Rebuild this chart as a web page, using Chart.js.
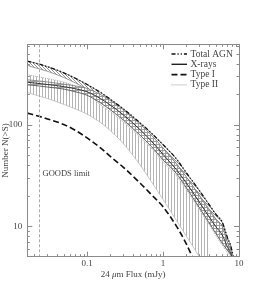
<!DOCTYPE html>
<html>
<head>
<meta charset="utf-8">
<script src="https://cdn.jsdelivr.net/npm/chart.js@4.4.1/dist/chart.umd.min.js"></script>
<style>
html, body { margin: 0; padding: 0; background: #fff; }
#wrap { width: 253px; height: 297px; }
</style>
</head>
<body>
<div id="wrap"><canvas id="agnChart" width="253" height="297"></canvas></div>
<script>
// 24um flux grid (mJy)
const flux = [0.0163, 0.02, 0.03, 0.05, 0.07, 0.1, 0.15, 0.2, 0.3, 0.5, 0.7, 1, 1.5, 2, 3, 4, 5, 6, 7, 8, 10];

const totalAGN = [422, 408, 373, 323, 287, 249, 208, 179, 143, 104, 82.7, 63.6, 46, 34, 22.5, 16.5, 13, 11, 7.8, 5.9, 2];
const totalAGNLow = [384, 367, 336, 291, 258, 224, 187, 161, 129, 94, 74.5, 57, 41.5, 30.6, 20.3, 14.9, 11.7, 9.9, 7, 5.3, 1.8];

const xrays = [262, 258, 249, 237, 226, 211, 181, 157, 125, 89, 69, 51, 36, 27, 17.3, 12.5, 9.8, 8.2, 6.3, 5.1, 2.5];
const xraysHigh = [277, 273, 264, 251, 241, 228, 198, 174, 140, 101, 79, 59, 41, 31, 20, 14.5, 11.5, 10, 7, 5.3, 2];
const xraysLow = [247, 244, 235, 224, 211, 195, 164, 141, 111, 78.5, 61, 45, 33, 24.2, 15.2, 10.9, 8.4, 6.8, 5.8, 5, 3];

const typeI = [130, 125, 114, 100, 88, 74, 59, 49, 38, 26.5, 20.5, 15.5, 10, 6.8, 3.5, null, null, null, null, null, null];

const typeII = [310, 302, 285, 262, 240, 205, 157, 135, 106.5, 75.4, 58.5, 43.2, 31.5, 23.2, 14.6, 10.5, 8, 6.5, 5.5, 4.8, 2.8];
const typeIIHigh = typeII;
const typeIILow = [208, 198, 181, 158, 143, 127, 105, 88, 65, 40, 27.5, 18.3, 11.4, 8.1, 5, 3.5, null, null, null, null, null];

const goodsLimit = 0.023;

const xMajorTicks = [0.1, 1, 10];
const xMinorTicks = [0.02, 0.03, 0.04, 0.05, 0.06, 0.07, 0.08, 0.09, 0.2, 0.3, 0.4, 0.5, 0.6, 0.7, 0.8, 0.9, 2, 3, 4, 5, 6, 7, 8, 9];
const yMajorTicks = [10, 100];
const yMinorTicks = [6, 7, 8, 9, 20, 30, 40, 50, 60, 70, 80, 90, 200, 300, 400, 500, 600];

const legendItems = [
    { label: "Total AGN", dash: [4, 2, 1.2, 2, 1.2, 2], color: "#111", width: 1.3 },
    { label: "X-rays", dash: [], color: "#222", width: 1.4 },
    { label: "Type I", dash: [6, 3], color: "#111", width: 1.6 },
    { label: "Type II", dash: [1, 1], color: "#999", width: 1 }
];

const FONT = "Liberation Serif, DejaVu Serif, serif";

function makePattern(size, bg, fg, cells) {
    const c = document.createElement("canvas");
    c.width = size;
    c.height = size;
    const g = c.getContext("2d");
    if (bg) {
        g.fillStyle = bg;
        g.fillRect(0, 0, size, size);
    }
    g.fillStyle = fg;
    cells.forEach(([cx, cy]) => g.fillRect(cx, cy, 1, 1));
    return g.createPattern(c, "repeat");
}

const vertPattern = makePattern(3, null, "#b4b4b4", [[0, 0], [0, 1], [0, 2]]);
const diagPattern = makePattern(3, "#fff", "#959595", [[0, 0], [1, 1], [2, 2]]);
const crossPattern = makePattern(3, "#fff", "#a0a0a0", [[0, 0], [1, 0], [2, 0], [0, 1], [0, 2]]);

function pts(arr) {
    return flux.map((s, i) => ({ x: s, y: arr[i] }));
}

const frameAndText = {
    id: "frameAndText",
    afterDraw(chart) {
        const { ctx, chartArea: a, scales: { x, y } } = chart;
        ctx.save();

        // GOODS limit
        const gx = Math.round(x.getPixelForValue(goodsLimit)) + 0.5;
        ctx.strokeStyle = "#aaa";
        ctx.lineWidth = 1;
        ctx.setLineDash([3, 2]);
        ctx.beginPath();
        ctx.moveTo(gx, a.top);
        ctx.lineTo(gx, a.bottom);
        ctx.stroke();
        ctx.setLineDash([]);

        // frame
        ctx.strokeStyle = "#8a8a8a";
        ctx.strokeRect(Math.round(a.left) + 0.5, Math.round(a.top) + 0.5,
            Math.round(a.right - a.left), Math.round(a.bottom - a.top));

        // inward ticks on all sides
        ctx.beginPath();
        const xt = (v, len) => {
            const px = Math.round(x.getPixelForValue(v)) + 0.5;
            ctx.moveTo(px, a.bottom); ctx.lineTo(px, a.bottom - len);
            ctx.moveTo(px, a.top); ctx.lineTo(px, a.top + len);
        };
        const yt = (v, len) => {
            const py = Math.round(y.getPixelForValue(v)) + 0.5;
            ctx.moveTo(a.left, py); ctx.lineTo(a.left + len, py);
            ctx.moveTo(a.right, py); ctx.lineTo(a.right - len, py);
        };
        xMajorTicks.forEach(v => xt(v, 5));
        xMinorTicks.forEach(v => xt(v, 2.5));
        yMajorTicks.forEach(v => yt(v, 5));
        yMinorTicks.forEach(v => yt(v, 2.5));
        ctx.stroke();

        // tick labels
        ctx.fillStyle = "#444";
        ctx.font = "9px " + FONT;
        ctx.textAlign = "center";
        ctx.textBaseline = "middle";
        xMajorTicks.forEach(v => {
            ctx.fillText(String(v), x.getPixelForValue(v), a.bottom + 7);
        });
        ctx.textAlign = "right";
        yMajorTicks.forEach(v => {
            ctx.fillText(String(v), a.left - 5, y.getPixelForValue(v));
        });

        // x title: 24 μm Flux (mJy)
        const cx = (a.left + a.right) / 2;
        const ty = a.bottom + 17.5;
        const p1 = "24 ", p3 = "m Flux (mJy)";
        ctx.font = "9px " + FONT;
        const w1 = ctx.measureText(p1).width, w3 = ctx.measureText(p3).width;
        ctx.font = "italic 9px " + FONT;
        const w2 = ctx.measureText("\u03bc").width;
        const sx = cx - (w1 + w2 + w3) / 2;
        ctx.textAlign = "left";
        ctx.font = "9px " + FONT;
        ctx.fillText(p1, sx, ty);
        ctx.font = "italic 9px " + FONT;
        ctx.fillText("\u03bc", sx + w1, ty);
        ctx.font = "9px " + FONT;
        ctx.fillText(p3, sx + w1 + w2, ty);

        // y title
        ctx.save();
        ctx.translate(6, (a.top + a.bottom) / 2);
        ctx.rotate(-Math.PI / 2);
        ctx.textAlign = "center";
        ctx.fillText("Number N(>S)", 0, 0);
        ctx.restore();

        // GOODS label
        ctx.textAlign = "left";
        ctx.font = "8.5px " + FONT;
        ctx.fillText("GOODS limit", 42.5, 173.5);

        // legend
        ctx.font = "9.5px " + FONT;
        legendItems.forEach((it, i) => {
            const ly = 54 + i * 10.3;
            ctx.strokeStyle = it.color;
            ctx.lineWidth = it.width;
            ctx.setLineDash(it.dash);
            ctx.beginPath();
            ctx.moveTo(171.5, ly);
            ctx.lineTo(187, ly);
            ctx.stroke();
            ctx.setLineDash([]);
            ctx.fillStyle = "#444";
            ctx.fillText(it.label, 190.5, ly);
        });

        ctx.restore();
    }
};

const lineBase = { pointRadius: 0, fill: false, cubicInterpolationMode: "monotone" };

new Chart(document.getElementById("agnChart"), {
    type: "line",
    data: {
        datasets: [
            { ...lineBase, label: "Total AGN", data: pts(totalAGN), borderColor: "#111", borderWidth: 1.3, borderDash: [4, 2, 1.2, 2, 1.2, 2], order: 0 },
            { ...lineBase, label: "X-rays", data: pts(xrays), borderColor: "#333", borderWidth: 1, order: 1 },
            { ...lineBase, label: "Type I", data: pts(typeI), borderColor: "#111", borderWidth: 1.6, borderDash: [6, 3], order: 2 },
            { ...lineBase, label: "xraysLow", data: pts(xraysLow), borderColor: "#555", borderWidth: 0.9, order: 3 },
            { ...lineBase, label: "xraysHigh", data: pts(xraysHigh), borderColor: "#777", borderWidth: 0.8, backgroundColor: crossPattern, fill: 3, order: 4 },
            { ...lineBase, label: "agnLow", data: pts(totalAGNLow), borderColor: "#888", borderWidth: 0.8, order: 5 },
            { ...lineBase, label: "agnHigh", data: pts(totalAGN), borderColor: "#777", borderWidth: 0.8, backgroundColor: diagPattern, fill: 5, order: 6 },
            { ...lineBase, label: "Type II", data: pts(typeII), borderColor: "#aaa", borderWidth: 1, borderDash: [1, 1], order: 7 },
            { ...lineBase, label: "typeIILow", data: pts(typeIILow), borderColor: "#bbb", borderWidth: 0.8, order: 8 },
            { ...lineBase, label: "typeIIHigh", data: pts(typeIIHigh), borderColor: "rgba(0,0,0,0)", borderWidth: 0, backgroundColor: vertPattern, fill: 8, order: 9 }
        ]
    },
    options: {
        responsive: false,
        animation: false,
        devicePixelRatio: 1,
        layout: { padding: { left: 27.3, right: 14, top: 44.3, bottom: 40.3 } },
        plugins: {
            legend: { display: false },
            tooltip: { enabled: false }
        },
        scales: {
            x: { type: "logarithmic", min: 0.0163, max: 10, display: false },
            y: { type: "logarithmic", min: 5, max: 620, display: false }
        }
    },
    plugins: [frameAndText]
});
</script>
</body>
</html>
